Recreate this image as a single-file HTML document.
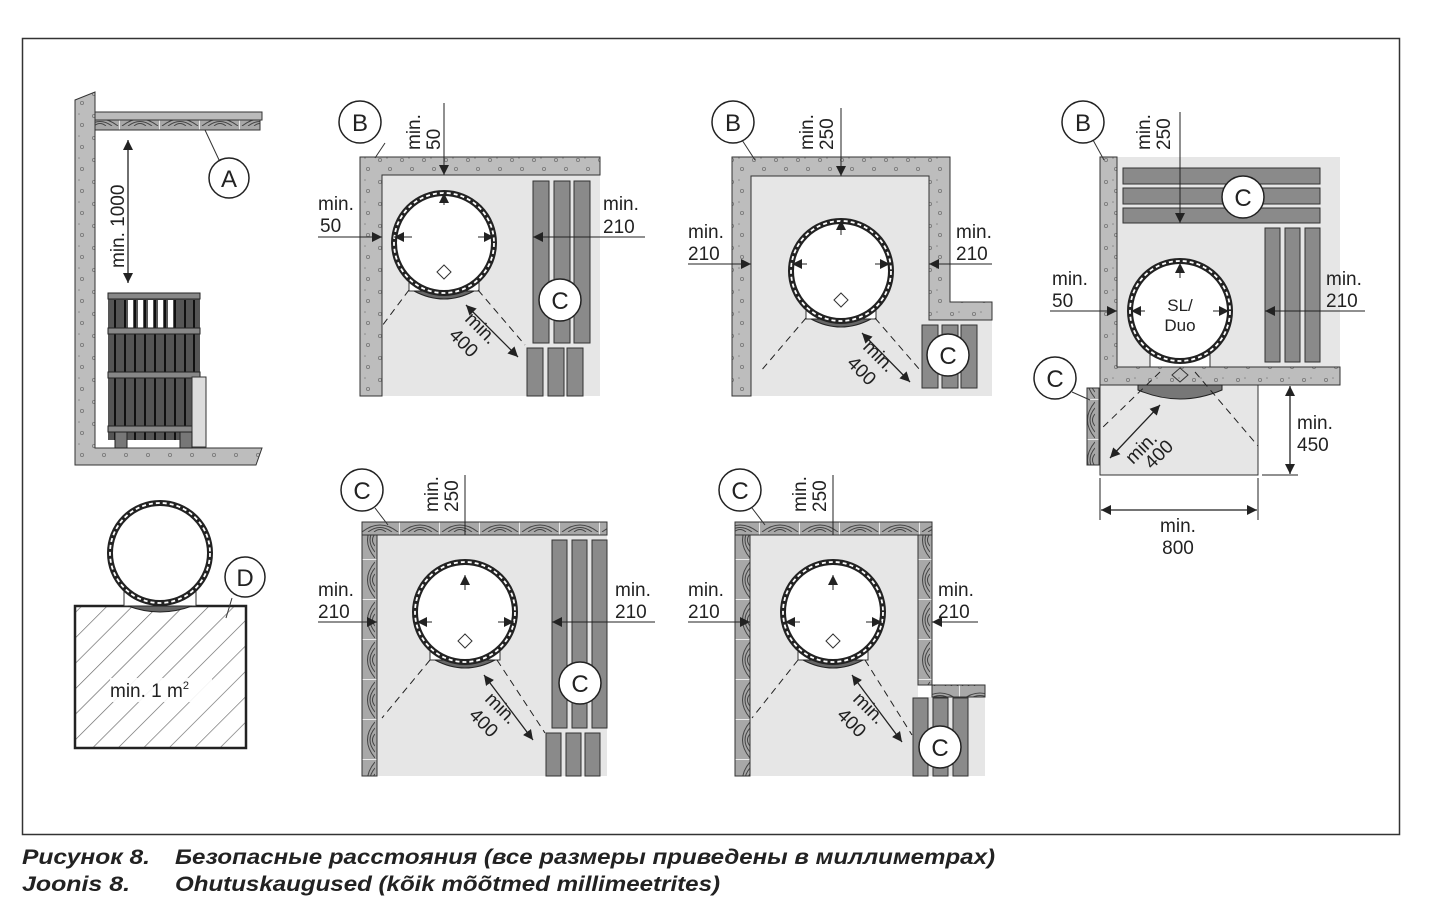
<!DOCTYPE html>
<html><head><meta charset="utf-8"><style>
html,body{margin:0;padding:0;background:#fff}
svg{display:block}
text{font-family:"Liberation Sans",sans-serif;fill:#222}
</style></head><body>
<svg width="1438" height="901" viewBox="0 0 1438 901" xmlns="http://www.w3.org/2000/svg">
<defs>
<marker id="ah" viewBox="0 0 10 10" refX="10" refY="5" markerWidth="10" markerHeight="10" markerUnits="userSpaceOnUse" orient="auto-start-reverse"><path d="M0,0L10,5L0,10z" fill="#222"/></marker>
<pattern id="dots" width="22" height="22" patternUnits="userSpaceOnUse"><rect width="22" height="22" fill="#bdbdbd"/><circle cx="6" cy="6" r="1.6" fill="none" stroke="#777" stroke-width="0.8"/><circle cx="16" cy="15" r="1.6" fill="none" stroke="#777" stroke-width="0.8"/><circle cx="13" cy="4" r="0.8" fill="#888"/></pattern>
<pattern id="woodH" width="40" height="14" patternUnits="userSpaceOnUse"><rect width="40" height="14" fill="#a8a8a8"/><path d="M2,14 Q20,0 38,14 M8,14 Q20,5 32,14 M14,14 Q20,9 26,14" fill="none" stroke="#444" stroke-width="1"/><line x1="40" y1="0" x2="40" y2="14" stroke="#fff" stroke-width="1.5"/></pattern>
<pattern id="woodV" width="15" height="40" patternUnits="userSpaceOnUse"><rect width="15" height="40" fill="#a8a8a8"/><path d="M15,2 Q0,20 15,38 M15,8 Q5,20 15,32 M15,14 Q10,20 15,26" fill="none" stroke="#444" stroke-width="1"/><line x1="0" y1="40" x2="15" y2="40" stroke="#fff" stroke-width="1.5"/></pattern>
<pattern id="hatch" width="18" height="18" patternUnits="userSpaceOnUse" patternTransform="rotate(45)"><rect width="18" height="18" fill="#fff"/><line x1="0" y1="0" x2="0" y2="18" stroke="#666" stroke-width="1.3"/></pattern>
<g id="heater">
<rect x="-35" y="34" width="70" height="14" fill="#fff" stroke="#333" stroke-width="1"/>
<path d="M-30,48 Q0,64 30,48 Z" fill="#666" stroke="#222" stroke-width="1"/>
<circle r="50" fill="#fff" stroke="#222" stroke-width="6"/>
<circle r="50" fill="none" stroke="#fff" stroke-width="1.8" stroke-dasharray="4 3"/>
<path d="M-7,-7 L0,-14 L7,-7 L0,0z" transform="translate(0,36)" fill="none" stroke="#333" stroke-width="1"/>
</g>
</defs>

<rect x="22.5" y="38.5" width="1377" height="796" fill="#fff" stroke="#333" stroke-width="1.5"/>

<!-- Panel 1 side view -->
<path d="M75,100 L95,92 L95,448 L262,448 L256,465 L75,465 Z" fill="url(#dots)" stroke="#333" stroke-width="1"/>
<rect x="95" y="112" width="167" height="8" fill="#bbb" stroke="#333"/>
<rect x="95" y="120" width="165" height="10" fill="url(#woodH)" stroke="#333"/>
<line x1="205" y1="130" x2="220" y2="162" stroke="#333"/>
<circle cx="229" cy="178" r="20" fill="#fff" stroke="#222" stroke-width="1.5"/>
<text x="229" y="187" font-size="24" text-anchor="middle">A</text>
<line x1="128" y1="140" x2="128" y2="283" stroke="#222" stroke-width="1.3" marker-start="url(#ah)" marker-end="url(#ah)"/>
<text transform="translate(124,268) rotate(-90)" font-size="19">min. 1000</text>
<rect x="108" y="295" width="92" height="145" fill="#555"/>
<g stroke="#111" stroke-width="2"><line x1="115" y1="300" x2="115" y2="440"/><line x1="125" y1="300" x2="125" y2="440"/><line x1="135" y1="300" x2="135" y2="440"/><line x1="145" y1="300" x2="145" y2="440"/><line x1="155" y1="300" x2="155" y2="440"/><line x1="165" y1="300" x2="165" y2="440"/><line x1="175" y1="300" x2="175" y2="440"/><line x1="185" y1="300" x2="185" y2="440"/><line x1="194" y1="300" x2="194" y2="440"/></g>
<g fill="#fff"><rect x="128" y="300" width="5" height="28"/><rect x="138" y="300" width="5" height="28"/><rect x="148" y="300" width="5" height="28"/><rect x="158" y="300" width="5" height="28"/><rect x="168" y="300" width="5" height="28"/></g>
<g fill="#888" stroke="#222"><rect x="108" y="293" width="92" height="6"/><rect x="108" y="328" width="92" height="6"/><rect x="108" y="372" width="92" height="6"/><rect x="108" y="426" width="92" height="6"/></g>
<rect x="192" y="377" width="14" height="70" fill="#ddd" stroke="#333"/>
<rect x="115" y="432" width="12" height="16" fill="#777" stroke="#222"/><rect x="180" y="432" width="12" height="16" fill="#777" stroke="#222"/>

<!-- Panel D -->
<rect x="75" y="606" width="171" height="142" fill="url(#hatch)" stroke="#222" stroke-width="2.5"/>
<rect x="124" y="587" width="72" height="19" fill="#fff" stroke="#333"/>
<circle cx="160" cy="553" r="50" fill="#fff" stroke="#222" stroke-width="6"/>
<circle cx="160" cy="553" r="50" fill="none" stroke="#fff" stroke-width="1.8" stroke-dasharray="4 3"/>
<path d="M128,606 Q160,618 192,606 Z" fill="#666" stroke="#222"/>
<rect x="110" y="678" width="102" height="24" fill="#fff" opacity="0.9"/>
<text x="110" y="697" font-size="19">min. 1 m<tspan font-size="11" dy="-8">2</tspan></text>
<line x1="232" y1="598" x2="226" y2="618" stroke="#333"/>
<circle cx="245" cy="577" r="20" fill="#fff" stroke="#222" stroke-width="1.5"/>
<text x="245" y="586" font-size="24" text-anchor="middle">D</text>

<!-- Panel 2 -->
<rect x="382" y="175" width="218" height="221" fill="#e6e6e6"/>
<path d="M360,157 L600,157 L600,175 L382,175 L382,396 L360,396 Z" fill="url(#dots)" stroke="#333"/>
<g fill="#8a8a8a" stroke="#333"><rect x="533" y="181" width="16" height="162"/><rect x="554" y="181" width="16" height="162"/><rect x="574" y="181" width="16" height="162"/><rect x="527" y="348" width="16" height="48"/><rect x="548" y="348" width="16" height="48"/><rect x="567" y="348" width="16" height="48"/></g>
<use href="#heater" x="444" y="243"/>
<circle cx="560" cy="300" r="21" fill="#fff" stroke="#222" stroke-width="1.5"/><text x="560" y="309" font-size="24" text-anchor="middle">C</text>
<line x1="385" y1="143" x2="375" y2="158" stroke="#333"/>
<circle cx="360" cy="122" r="21" fill="#fff" stroke="#222" stroke-width="1.5"/><text x="360" y="131" font-size="24" text-anchor="middle">B</text>
<line x1="444" y1="103" x2="444" y2="175" stroke="#222" marker-end="url(#ah)"/><line x1="444" y1="205" x2="444" y2="193" stroke="#222" marker-end="url(#ah)"/>
<text transform="translate(420,150) rotate(-90)" font-size="19">min.</text><text transform="translate(440,150) rotate(-90)" font-size="19">50</text>
<line x1="318" y1="237" x2="382" y2="237" stroke="#222" marker-end="url(#ah)"/><line x1="412" y1="237" x2="394" y2="237" stroke="#222" marker-end="url(#ah)"/>
<text x="318" y="210" font-size="19">min.</text><text x="320" y="232" font-size="19">50</text>
<line x1="478" y1="237" x2="494" y2="237" stroke="#222" marker-end="url(#ah)"/><line x1="645" y1="237" x2="533" y2="237" stroke="#222" marker-end="url(#ah)"/>
<text x="603" y="210" font-size="19">min.</text><text x="603" y="233" font-size="19">210</text>
<line x1="409" y1="290" x2="382" y2="326" stroke="#222" stroke-dasharray="7 5"/><line x1="478" y1="290" x2="525" y2="345" stroke="#222" stroke-dasharray="7 5"/>
<line x1="466" y1="305" x2="518" y2="357" stroke="#222" stroke-width="1.3" marker-start="url(#ah)" marker-end="url(#ah)"/>
<text transform="translate(464,320) rotate(45)" font-size="19">min.</text><text transform="translate(448,336) rotate(45)" font-size="19">400</text>

<!-- Panel 3 -->
<rect x="751" y="176" width="178" height="220" fill="#e6e6e6"/>
<rect x="929" y="320" width="63" height="76" fill="#e6e6e6"/>
<path d="M732,157 L950,157 L950,302 L992,302 L992,320 L929,320 L929,176 L751,176 L751,396 L732,396 Z" fill="url(#dots)" stroke="#333"/>
<g fill="#8a8a8a" stroke="#333"><rect x="922" y="325" width="16" height="63"/><rect x="942" y="325" width="16" height="63"/><rect x="961" y="325" width="16" height="63"/></g>
<use href="#heater" x="841" y="271"/>
<circle cx="948" cy="355" r="21" fill="#fff" stroke="#222" stroke-width="1.5"/><text x="948" y="364" font-size="24" text-anchor="middle">C</text>
<line x1="742" y1="140" x2="755" y2="160" stroke="#333"/>
<circle cx="733" cy="122" r="21" fill="#fff" stroke="#222" stroke-width="1.5"/><text x="733" y="131" font-size="24" text-anchor="middle">B</text>
<line x1="841" y1="108" x2="841" y2="176" stroke="#222" marker-end="url(#ah)"/><line x1="841" y1="235" x2="841" y2="220" stroke="#222" marker-end="url(#ah)"/>
<text transform="translate(813,150) rotate(-90)" font-size="19">min.</text><text transform="translate(833,150) rotate(-90)" font-size="19">250</text>
<line x1="688" y1="264" x2="751" y2="264" stroke="#222" marker-end="url(#ah)"/><line x1="807" y1="264" x2="792" y2="264" stroke="#222" marker-end="url(#ah)"/>
<text x="688" y="238" font-size="19">min.</text><text x="688" y="260" font-size="19">210</text>
<line x1="875" y1="264" x2="890" y2="264" stroke="#222" marker-end="url(#ah)"/><line x1="992" y1="264" x2="929" y2="264" stroke="#222" marker-end="url(#ah)"/>
<text x="956" y="238" font-size="19">min.</text><text x="956" y="260" font-size="19">210</text>
<line x1="806" y1="318" x2="760" y2="372" stroke="#222" stroke-dasharray="7 5"/><line x1="875" y1="318" x2="920" y2="370" stroke="#222" stroke-dasharray="7 5"/>
<line x1="862" y1="333" x2="910" y2="382" stroke="#222" stroke-width="1.3" marker-start="url(#ah)" marker-end="url(#ah)"/>
<text transform="translate(862,348) rotate(45)" font-size="19">min.</text><text transform="translate(846,364) rotate(45)" font-size="19">400</text>

<!-- Panel 4 -->
<rect x="1117" y="157" width="223" height="210" fill="#e6e6e6"/>
<rect x="1100" y="385" width="158" height="90" fill="#e6e6e6" stroke="#333"/>
<path d="M1100,157 L1117,157 L1117,367 L1340,367 L1340,385 L1100,385 Z" fill="url(#dots)" stroke="#333"/>
<g fill="#8a8a8a" stroke="#333"><rect x="1123" y="168" width="197" height="16"/><rect x="1123" y="188" width="197" height="16"/><rect x="1123" y="208" width="197" height="15"/><rect x="1265" y="228" width="15" height="134"/><rect x="1285" y="228" width="15" height="134"/><rect x="1305" y="228" width="15" height="134"/></g>
<rect x="1087" y="388" width="12" height="77" fill="url(#woodV)" stroke="#333"/>
<rect x="1150" y="355" width="60" height="12" fill="#fff" stroke="#333"/>
<circle cx="1180" cy="311" r="50" fill="#fff" stroke="#222" stroke-width="6"/>
<circle cx="1180" cy="311" r="50" fill="none" stroke="#fff" stroke-width="1.8" stroke-dasharray="4 3"/>
<path d="M1138,385 L1222,385 L1222,390 Q1180,408 1138,390Z" fill="#777" stroke="#222"/>
<path d="M1172,375 L1180,368 L1188,375 L1180,382z" fill="none" stroke="#333"/>
<text x="1180" y="311" font-size="17" text-anchor="middle">SL/</text><text x="1180" y="331" font-size="17" text-anchor="middle">Duo</text>
<circle cx="1243" cy="197" r="21" fill="#fff" stroke="#222" stroke-width="1.5"/><text x="1243" y="206" font-size="24" text-anchor="middle">C</text>
<line x1="1093" y1="140" x2="1104" y2="160" stroke="#333"/>
<circle cx="1083" cy="122" r="21" fill="#fff" stroke="#222" stroke-width="1.5"/><text x="1083" y="131" font-size="24" text-anchor="middle">B</text>
<line x1="1072" y1="392" x2="1090" y2="400" stroke="#333"/>
<circle cx="1055" cy="378" r="21" fill="#fff" stroke="#222" stroke-width="1.5"/><text x="1055" y="387" font-size="24" text-anchor="middle">C</text>
<line x1="1180" y1="112" x2="1180" y2="223" stroke="#222" marker-end="url(#ah)"/><line x1="1180" y1="278" x2="1180" y2="263" stroke="#222" marker-end="url(#ah)"/>
<text transform="translate(1150,150) rotate(-90)" font-size="19">min.</text><text transform="translate(1170,150) rotate(-90)" font-size="19">250</text>
<line x1="1050" y1="311" x2="1117" y2="311" stroke="#222" marker-end="url(#ah)"/><line x1="1145" y1="311" x2="1131" y2="311" stroke="#222" marker-end="url(#ah)"/>
<text x="1052" y="285" font-size="19">min.</text><text x="1052" y="307" font-size="19">50</text>
<line x1="1213" y1="311" x2="1229" y2="311" stroke="#222" marker-end="url(#ah)"/><line x1="1365" y1="311" x2="1265" y2="311" stroke="#222" marker-end="url(#ah)"/>
<text x="1326" y="285" font-size="19">min.</text><text x="1326" y="307" font-size="19">210</text>
<line x1="1160" y1="372" x2="1100" y2="430" stroke="#222" stroke-dasharray="7 5"/><line x1="1195" y1="372" x2="1258" y2="446" stroke="#222" stroke-dasharray="7 5"/>
<line x1="1160" y1="405" x2="1110" y2="458" stroke="#222" stroke-width="1.3" marker-start="url(#ah)" marker-end="url(#ah)"/>
<text transform="translate(1133,465) rotate(-45)" font-size="19">min.</text><text transform="translate(1152,470) rotate(-45)" font-size="19">400</text>
<line x1="1262" y1="475" x2="1298" y2="475" stroke="#222"/>
<line x1="1290" y1="386" x2="1290" y2="474" stroke="#222" stroke-width="1.3" marker-start="url(#ah)" marker-end="url(#ah)"/>
<text x="1297" y="429" font-size="19">min.</text><text x="1297" y="451" font-size="19">450</text>
<line x1="1100" y1="478" x2="1100" y2="520" stroke="#222"/><line x1="1258" y1="478" x2="1258" y2="520" stroke="#222"/>
<line x1="1101" y1="510" x2="1257" y2="510" stroke="#222" stroke-width="1.3" marker-start="url(#ah)" marker-end="url(#ah)"/>
<text x="1178" y="532" font-size="19" text-anchor="middle">min.</text><text x="1178" y="554" font-size="19" text-anchor="middle">800</text>

<!-- Panel 5 -->
<rect x="377" y="535" width="230" height="241" fill="#e6e6e6"/>
<rect x="362" y="522" width="245" height="13" fill="url(#woodH)" stroke="#333"/>
<rect x="362" y="535" width="15" height="241" fill="url(#woodV)" stroke="#333"/>
<g fill="#8a8a8a" stroke="#333"><rect x="552" y="540" width="15" height="188"/><rect x="572" y="540" width="15" height="188"/><rect x="592" y="540" width="15" height="188"/><rect x="546" y="733" width="15" height="43"/><rect x="566" y="733" width="15" height="43"/><rect x="585" y="733" width="15" height="43"/></g>
<use href="#heater" x="465" y="612"/>
<circle cx="580" cy="683" r="21" fill="#fff" stroke="#222" stroke-width="1.5"/><text x="580" y="692" font-size="24" text-anchor="middle">C</text>
<line x1="375" y1="508" x2="388" y2="525" stroke="#333"/>
<circle cx="362" cy="490" r="21" fill="#fff" stroke="#222" stroke-width="1.5"/><text x="362" y="499" font-size="24" text-anchor="middle">C</text>
<line x1="465" y1="475" x2="465" y2="535" stroke="#222"/><line x1="465" y1="590" x2="465" y2="575" stroke="#222" marker-end="url(#ah)"/>
<text transform="translate(438,512) rotate(-90)" font-size="19">min.</text><text transform="translate(458,512) rotate(-90)" font-size="19">250</text>
<line x1="318" y1="622" x2="377" y2="622" stroke="#222" marker-end="url(#ah)"/><line x1="432" y1="622" x2="417" y2="622" stroke="#222" marker-end="url(#ah)"/>
<text x="318" y="596" font-size="19">min.</text><text x="318" y="618" font-size="19">210</text>
<line x1="498" y1="622" x2="514" y2="622" stroke="#222" marker-end="url(#ah)"/><line x1="655" y1="622" x2="552" y2="622" stroke="#222" marker-end="url(#ah)"/>
<text x="615" y="596" font-size="19">min.</text><text x="615" y="618" font-size="19">210</text>
<line x1="430" y1="660" x2="382" y2="718" stroke="#222" stroke-dasharray="7 5"/><line x1="497" y1="660" x2="545" y2="733" stroke="#222" stroke-dasharray="7 5"/>
<line x1="484" y1="675" x2="533" y2="740" stroke="#222" stroke-width="1.3" marker-start="url(#ah)" marker-end="url(#ah)"/>
<text transform="translate(484,700) rotate(45)" font-size="19">min.</text><text transform="translate(468,716) rotate(45)" font-size="19">400</text>

<!-- Panel 6 -->
<rect x="750" y="535" width="168" height="241" fill="#e6e6e6"/>
<rect x="918" y="697" width="67" height="79" fill="#e6e6e6"/>
<rect x="735" y="522" width="197" height="13" fill="url(#woodH)" stroke="#333"/>
<rect x="735" y="535" width="15" height="241" fill="url(#woodV)" stroke="#333"/>
<rect x="918" y="535" width="14" height="150" fill="url(#woodV)" stroke="#333"/>
<rect x="932" y="685" width="53" height="12" fill="url(#woodH)" stroke="#333"/>
<g fill="#8a8a8a" stroke="#333"><rect x="913" y="698" width="15" height="78"/><rect x="933" y="698" width="15" height="78"/><rect x="953" y="698" width="15" height="78"/></g>
<use href="#heater" x="833" y="612"/>
<circle cx="940" cy="747" r="21" fill="#fff" stroke="#222" stroke-width="1.5"/><text x="940" y="756" font-size="24" text-anchor="middle">C</text>
<line x1="752" y1="508" x2="765" y2="525" stroke="#333"/>
<circle cx="740" cy="490" r="21" fill="#fff" stroke="#222" stroke-width="1.5"/><text x="740" y="499" font-size="24" text-anchor="middle">C</text>
<line x1="833" y1="475" x2="833" y2="535" stroke="#222"/><line x1="833" y1="590" x2="833" y2="575" stroke="#222" marker-end="url(#ah)"/>
<text transform="translate(806,512) rotate(-90)" font-size="19">min.</text><text transform="translate(826,512) rotate(-90)" font-size="19">250</text>
<line x1="688" y1="622" x2="750" y2="622" stroke="#222" marker-end="url(#ah)"/><line x1="800" y1="622" x2="785" y2="622" stroke="#222" marker-end="url(#ah)"/>
<text x="688" y="596" font-size="19">min.</text><text x="688" y="618" font-size="19">210</text>
<line x1="866" y1="622" x2="882" y2="622" stroke="#222" marker-end="url(#ah)"/><line x1="978" y1="622" x2="932" y2="622" stroke="#222" marker-end="url(#ah)"/>
<text x="938" y="596" font-size="19">min.</text><text x="938" y="618" font-size="19">210</text>
<line x1="798" y1="660" x2="752" y2="718" stroke="#222" stroke-dasharray="7 5"/><line x1="865" y1="660" x2="912" y2="735" stroke="#222" stroke-dasharray="7 5"/>
<line x1="852" y1="675" x2="902" y2="742" stroke="#222" stroke-width="1.3" marker-start="url(#ah)" marker-end="url(#ah)"/>
<text transform="translate(852,700) rotate(45)" font-size="19">min.</text><text transform="translate(836,716) rotate(45)" font-size="19">400</text>

<!-- Caption -->
<g font-style="italic" font-size="21" font-weight="bold">
<text x="22" y="864" textLength="128" lengthAdjust="spacingAndGlyphs" style="font-family:'Liberation Sans Narrow','Liberation Sans',sans-serif;font-style:italic;font-weight:bold">Рисунок 8.</text>
<text x="175" y="864" textLength="820" lengthAdjust="spacingAndGlyphs" style="font-family:'Liberation Sans Narrow','Liberation Sans',sans-serif;font-style:italic;font-weight:bold">Безопасные расстояния (все размеры приведены в миллиметрах)</text>
<text x="22" y="891" textLength="108" lengthAdjust="spacingAndGlyphs" style="font-family:'Liberation Sans Narrow','Liberation Sans',sans-serif;font-style:italic;font-weight:bold">Joonis 8.</text>
<text x="175" y="891" textLength="545" lengthAdjust="spacingAndGlyphs" style="font-family:'Liberation Sans Narrow','Liberation Sans',sans-serif;font-style:italic;font-weight:bold">Ohutuskaugused (kõik mõõtmed millimeetrites)</text>
</g>
</svg>
</body></html>
